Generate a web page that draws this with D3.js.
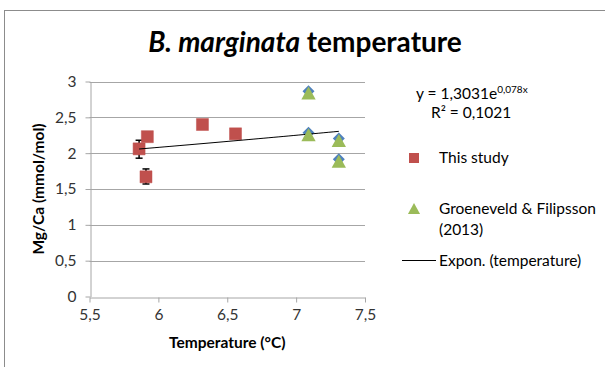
<!DOCTYPE html>
<html>
<head>
<meta charset="utf-8">
<script src="https://cdn.jsdelivr.net/npm/d3@7"></script>
<style>
  html, body { margin: 0; padding: 0; background: #fff; }
  svg { display: block; font-family: Lato, "Open Sans", sans-serif; }
</style>
</head>
<body>
<svg id="chart" width="605" height="367"></svg>
<script>
// Mg/Ca of B. marginata against temperature
const studyTemp   = [5.86, 5.92, 5.91, 6.32, 6.56];
const studyMgCa   = [2.06, 2.23, 1.67, 2.40, 2.27];
const studyErrLo  = [1.93, null, 1.57, null, null];
const studyErrHi  = [2.18, null, 1.78, null, null];

const groenTemp   = [7.09, 7.09, 7.31, 7.31];
const groenMgCa   = [2.85, 2.27, 2.19, 1.90];

// exponential fit over all points: y = a * e^(b x)
const fitA = 1.3031, fitB = 0.078;
const fitRange = [5.86, 7.31];

const xTicks = [5.5, 6, 6.5, 7, 7.5];
const yTicks = [0, 0.5, 1, 1.5, 2, 2.5, 3];

const fmt = v => String(v).replace(".", ",");
const FS = 15.5;

const svg = d3.select("#chart");

// outer chart frame
svg.append("rect")
  .attr("x", 4.5).attr("y", 10.5)
  .attr("width", 620).attr("height", 380)
  .attr("fill", "none").attr("stroke", "#8c8c8c").attr("stroke-width", 1);

const x = d3.scaleLinear().domain([5.5, 7.5]).range([89.5, 365]);
const y = d3.scaleLinear().domain([0, 3]).range([296.5, 81.5]);

// horizontal gridlines
svg.append("g").selectAll("line")
  .data(yTicks.filter(t => t > 0))
  .join("line")
  .attr("x1", x(5.5)).attr("x2", x(7.5))
  .attr("y1", d => Math.round(y(d)) + 0.5).attr("y2", d => Math.round(y(d)) + 0.5)
  .attr("stroke", "#a6a6a6").attr("stroke-width", 1);

// axes
const xAxis = svg.append("g")
  .attr("transform", `translate(0,${Math.round(y(0)) + 0.5})`)
  .call(d3.axisBottom(x).tickValues(xTicks).tickFormat(fmt).tickSizeInner(5).tickSizeOuter(0).tickPadding(6));
const yAxis = svg.append("g")
  .attr("transform", `translate(${Math.round(x(5.5)) + 0.5},0)`)
  .call(d3.axisLeft(y).tickValues(yTicks).tickFormat(fmt).tickSizeInner(5).tickSizeOuter(0).tickPadding(9));

[xAxis, yAxis].forEach(g => {
  g.select(".domain").attr("stroke", "#a6a6a6");
  g.selectAll(".tick line").attr("stroke", "#a6a6a6");
  g.selectAll(".tick text").attr("fill", "#333").attr("font-size", FS)
    .attr("font-family", "Lato, 'Open Sans', sans-serif");
});

// titles
svg.append("text")
  .attr("x", 305).attr("y", 52)
  .attr("text-anchor", "middle")
  .attr("font-size", 28).attr("font-weight", "bold").attr("fill", "#000")
  .call(t => {
    t.append("tspan").attr("font-style", "italic").text("B. marginata");
    t.append("tspan").text(" temperature");
  });

svg.append("text")
  .attr("x", x(6.5)).attr("y", 348)
  .attr("text-anchor", "middle")
  .attr("font-size", FS).attr("font-weight", "bold").attr("fill", "#000")
  .text("Temperature (°C)");

svg.append("text")
  .attr("transform", `translate(44,${y(1.5)}) rotate(-90)`)
  .attr("text-anchor", "middle")
  .attr("font-size", FS).attr("font-weight", "bold").attr("fill", "#000")
  .text("Mg/Ca (mmol/mol)");

// marker shapes
const square = s => `M${-s / 2},${-s / 2}h${s}v${s}h${-s}Z`;
const triangle = s => `M0,${-s * 0.55}L${s * 0.55},${s * 0.45}L${-s * 0.55},${s * 0.45}Z`;
const diamond = s => `M0,${-s / 2}L${s / 2},0L0,${s / 2}L${-s / 2},0Z`;

// error bars
const errIdx = studyTemp.map((_, i) => i).filter(i => studyErrLo[i] != null);
const eb = svg.append("g").attr("stroke", "#000").attr("stroke-width", 1.5);
errIdx.forEach(i => {
  const cx = x(studyTemp[i]);
  eb.append("line").attr("x1", cx).attr("x2", cx)
    .attr("y1", y(studyErrLo[i])).attr("y2", y(studyErrHi[i]));
  [studyErrLo[i], studyErrHi[i]].forEach(v => {
    eb.append("line").attr("x1", cx - 3.5).attr("x2", cx + 3.5)
      .attr("y1", y(v)).attr("y2", y(v));
  });
});

// "This study" squares
svg.append("g").selectAll("path")
  .data(studyTemp.map((t, i) => [t, studyMgCa[i]]))
  .join("path")
  .attr("transform", d => `translate(${x(d[0])},${y(d[1])})`)
  .attr("d", square(12))
  .attr("fill", "#c0504d").attr("stroke", "#c0504d").attr("stroke-opacity", 0.5);

// temperature series (diamonds) behind the Groeneveld triangles
svg.append("g").selectAll("path")
  .data(groenTemp.map((t, i) => [t, groenMgCa[i]]))
  .join("path")
  .attr("transform", d => `translate(${x(d[0])},${y(d[1]) - 1})`)
  .attr("d", diamond(12))
  .attr("fill", "#4f81bd");

// exponential trendline
const fitPts = d3.range(0, 41).map(k => {
  const t = fitRange[0] + (fitRange[1] - fitRange[0]) * k / 40;
  return [t, fitA * Math.exp(fitB * t)];
});
svg.append("path")
  .datum(fitPts)
  .attr("d", d3.line().x(d => x(d[0])).y(d => y(d[1])))
  .attr("fill", "none").attr("stroke", "#000").attr("stroke-width", 1);

svg.append("g").selectAll("path")
  .data(groenTemp.map((t, i) => [t, groenMgCa[i]]))
  .join("path")
  .attr("transform", d => `translate(${x(d[0])},${y(d[1]) + 1.5})`)
  .attr("d", triangle(13))
  .attr("fill", "#9bbb59");

// equation label
const eq = svg.append("text")
  .attr("x", 416).attr("y", 99)
  .attr("font-size", FS).attr("fill", "#000");
eq.append("tspan").text(`y = ${fmt(fitA)}e`);
eq.append("tspan").attr("font-size", 10).attr("dy", -6).text(`${fmt(fitB)}x`);
svg.append("text")
  .attr("x", 431).attr("y", 118)
  .attr("font-size", FS).attr("fill", "#000")
  .text("R² = 0,1021");

// legend
const lg = svg.append("g").attr("font-size", FS).attr("fill", "#000");
lg.append("path").attr("transform", "translate(414,158)").attr("d", square(10)).attr("fill", "#c0504d");
lg.append("text").attr("x", 439).attr("y", 163).text("This study");
lg.append("path").attr("transform", "translate(414,209)").attr("d", triangle(11)).attr("fill", "#9bbb59");
lg.append("text").attr("x", 439).attr("y", 214).text("Groeneveld & Filipsson");
lg.append("text").attr("x", 439).attr("y", 235).text("(2013)");
lg.append("line").attr("x1", 402).attr("x2", 436).attr("y1", 260.5).attr("y2", 260.5)
  .attr("stroke", "#000").attr("stroke-width", 1);
lg.append("text").attr("x", 439).attr("y", 266).text("Expon. (temperature)");
</script>
</body>
</html>
